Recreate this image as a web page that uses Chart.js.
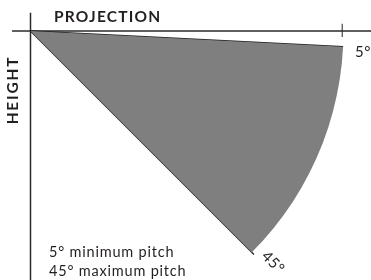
<!DOCTYPE html>
<html>
<head>
<meta charset="utf-8">
<script src="https://cdn.jsdelivr.net/npm/chart.js@4/dist/chart.umd.min.js"></script>
<style>
  html, body { margin: 0; padding: 0; background: #fff; overflow: hidden; }
  #wrap { position: relative; width: 371px; height: 280px; }
</style>
</head>
<body>
<div id="wrap"><canvas id="c" width="371" height="280"></canvas></div>
<script>
// ---- data (units: reach radius = 100) ----
const pitchLabels = ['5°', '45°'];
const legendLines = ['5° minimum pitch', '45° maximum pitch'];
const axisTitles = ['PROJECTION', 'HEIGHT'];

// sector outline: origin -> shallow edge -> arc -> steep edge -> origin
const sectorX = [0, 99.87, 99.45, 98.77, 97.81, 96.59, 95.11, 93.36, 91.35, 89.10, 86.60, 83.87, 80.90, 77.71, 74.31, 70.71, 0];
const sectorY = [0, 5.06, 10.45, 15.64, 20.79, 25.88, 30.90, 35.84, 40.67, 45.40, 50.00, 54.46, 58.78, 62.93, 66.91, 70.71, 0];
// shallow (minimum pitch) edge
const minEdgeX = [0, 99.87];
const minEdgeY = [0, 5.06];
// steep (maximum pitch) edge
const maxEdgeX = [0, 71.4];
const maxEdgeY = [0, 71.4];
// axes
const projAxisX = [-5.9, 110];
const projAxisY = [0, 0];
const heightAxisX = [0, 0];
const heightAxisY = [-5.8, 80];
// tick on projection axis
const tickX = [99.6, 99.6];
const tickY = [-2.3, 1.9];

function pts(xs, ys) { return xs.map((x, i) => ({ x: x, y: ys[i] })); }

const INK = '#231f20';
const FILL = '#7f7f7f';

const textPlugin = {
  id: 'texts',
  afterDatasetsDraw(chart) {
    const ctx = chart.ctx;
    const xs = chart.scales.x, ys = chart.scales.y;
    ctx.save();
    ctx.fillStyle = INK;
    // PROJECTION
    ctx.font = 'bold 15.5px Lato, "Open Sans", sans-serif';
    ctx.letterSpacing = '1.2px';
    ctx.textAlign = 'left';
    ctx.textBaseline = 'middle';
    ctx.fillText(axisTitles[0], 54, 16.5);
    // HEIGHT
    ctx.save();
    ctx.letterSpacing = '1.8px';
    ctx.translate(12.5, 90);
    ctx.rotate(-Math.PI / 2);
    ctx.textAlign = 'center';
    ctx.fillText(axisTitles[1], 0, 0);
    ctx.restore();
    ctx.letterSpacing = '0.5px';
    // 5° label near the shallow edge end
    ctx.font = '15px Lato, "Open Sans", sans-serif';
    const px5 = xs.getPixelForValue(minEdgeX[1]);
    const py5 = ys.getPixelForValue(minEdgeY[1]);
    ctx.textAlign = 'left';
    ctx.fillText(pitchLabels[0], px5 + 12, py5 + 5);
    // 45° label along the steep edge
    const px45 = xs.getPixelForValue(maxEdgeX[1]);
    const py45 = ys.getPixelForValue(maxEdgeY[1]);
    ctx.save();
    ctx.translate(px45 + 19, py45 + 8);
    ctx.rotate(Math.PI / 4);
    ctx.textAlign = 'center';
    ctx.fillText(pitchLabels[1], 0, 0);
    ctx.restore();
    // legend lines
    ctx.font = '14.5px Lato, "Open Sans", sans-serif';
    ctx.letterSpacing = '0.8px';
    ctx.textAlign = 'left';
    ctx.fillText(legendLines[0], 49, 252.5);
    ctx.fillText(legendLines[1], 49, 271.5);
    ctx.restore();
  }
};

const lineDs = (data, color, width) => ({
  data: data, showLine: true, fill: false, borderColor: color, borderWidth: width,
  pointRadius: 0, pointHoverRadius: 0, tension: 0
});

new Chart(document.getElementById('c'), {
  type: 'scatter',
  data: {
    datasets: [
      Object.assign(lineDs(pts(sectorX, sectorY), 'rgba(0,0,0,0)', 0), { fill: 'shape', backgroundColor: FILL }),
      lineDs(pts(minEdgeX, minEdgeY), '#1e1e1e', 1.6),
      lineDs(pts(maxEdgeX, maxEdgeY), '#1e1e1e', 1.2),
      lineDs(pts(projAxisX, projAxisY), '#2a2a2a', 1.5),
      lineDs(pts(heightAxisX, heightAxisY), '#2a2a2a', 1.5),
      lineDs(pts(tickX, tickY), '#555', 1.3)
    ]
  },
  options: {
    responsive: false,
    animation: false,
    events: [],
    layout: { padding: 0 },
    plugins: { legend: { display: false }, tooltip: { enabled: false }, title: { display: false } },
    scales: {
      x: { type: 'linear', display: false, min: -30.5 / 3.13, max: 340.5 / 3.13 },
      y: { type: 'linear', display: false, reverse: true, min: -31 / 3.13, max: 249 / 3.13 }
    }
  },
  plugins: [textPlugin]
});
</script>
</body>
</html>
